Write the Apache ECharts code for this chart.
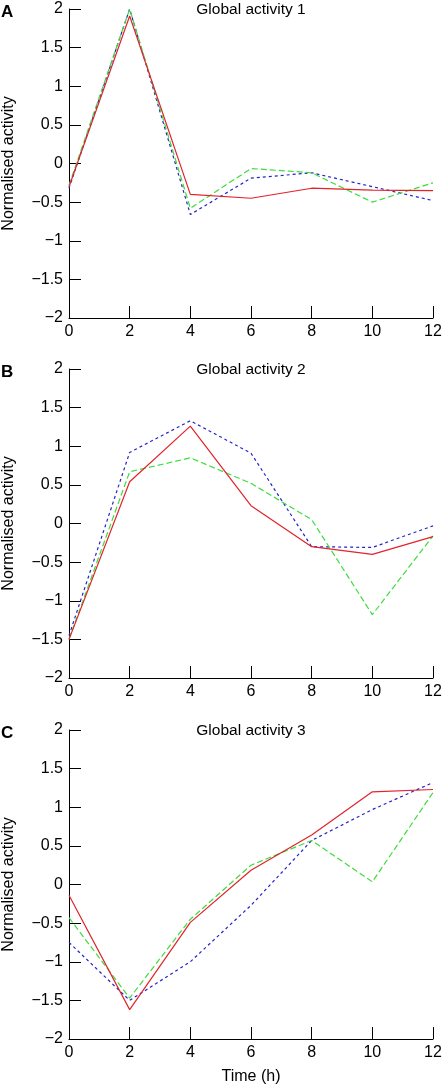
<!DOCTYPE html>
<html>
<head>
<meta charset="utf-8">
<script src="https://cdn.jsdelivr.net/npm/echarts@6/dist/echarts.min.js"></script>
<style>
  html, body { margin: 0; padding: 0; background: #fff; }
  #chart { width: 444px; height: 1086px; }
</style>
</head>
<body>
<div id="chart"></div>
<script>
// ---- data ----
var times = [0, 2, 4, 6, 8, 10, 12];
var xTicks = ['0', '2', '4', '6', '8', '10', '12'];
var yTicks = ['2', '1.5', '1', '0.5', '0', '−0.5', '−1', '−1.5', '−2'];
var panelLetters = ['A', 'B', 'C'];
var panelTitles = ['Global activity 1', 'Global activity 2', 'Global activity 3'];

var redA   = [-0.30, 1.91, -0.40, -0.45, -0.32, -0.345, -0.35];
var blueA  = [-0.32, 2.00, -0.66, -0.19, -0.12, -0.30, -0.48];
var greenA = [-0.28, 2.00, -0.58, -0.065, -0.12, -0.50, -0.25];

var redB   = [-1.50, 0.54, 1.26, 0.23, -0.30, -0.40, -0.17];
var blueB  = [-1.45, 0.92, 1.33, 0.91, -0.30, -0.31, -0.03];
var greenB = [-1.50, 0.67, 0.85, 0.52, 0.05, -1.18, -0.16];

var redC   = [-0.14, -1.62, -0.49, 0.185, 0.64, 1.20, 1.23];
var blueC  = [-0.75, -1.50, -1.00, -0.27, 0.57, 0.97, 1.32];
var greenC = [-0.43, -1.47, -0.45, 0.25, 0.57, 0.035, 1.19];

var panels = [
  { red: redA, blue: blueA, green: greenA },
  { red: redB, blue: blueB, green: greenB },
  { red: redC, blue: blueC, green: greenC }
];

// ---- layout / style ----
var FONT = 'Liberation Sans, Arial, Helvetica, sans-serif';
var gridTops = [9, 369, 730];
var gridH = 309;
var gridLeft = 69;
var gridW = 364;
var RED = '#e2232b', BLUE = '#2323c8', GREEN = '#3ddc3d';

function pair(xs, ys) { return xs.map(function (x, i) { return [x, ys[i]]; }); }
function yLabel(v) {
  var s = String(Math.round(v * 10) / 10).replace('-', '−');
  return yTicks.indexOf(s) >= 0 ? s : '';
}
function xLabel(v) {
  var s = String(v);
  return xTicks.indexOf(s) >= 0 ? s : '';
}

var grids = [], xAxes = [], yAxes = [], series = [], titles = [];
panels.forEach(function (p, i) {
  grids.push({
    left: gridLeft, top: gridTops[i], width: gridW, height: gridH,
    containLabel: false, outerBoundsMode: 'none'
  });
  xAxes.push({
    type: 'value', gridIndex: i, min: 0, max: 12, interval: 2,
    name: i === 2 ? 'Time (h)' : '', nameLocation: 'middle', nameGap: 30,
    nameTextStyle: { fontFamily: FONT, fontSize: 16, color: '#000' },
    axisLine: { show: true, onZero: false, lineStyle: { color: '#000', width: 1 } },
    axisTick: { show: true, inside: true, length: 12, lineStyle: { color: '#000', width: 1 } },
    axisLabel: { formatter: xLabel, margin: 6, fontFamily: FONT, fontSize: 16, color: '#000' },
    splitLine: { show: false }
  });
  yAxes.push({
    type: 'value', gridIndex: i, min: -2, max: 2, interval: 0.5,
    name: 'Normalised activity', nameLocation: 'middle', nameRotate: 90, nameGap: 52,
    nameTextStyle: { fontFamily: FONT, fontSize: 16, color: '#000' },
    axisLine: { show: true, onZero: false, lineStyle: { color: '#000', width: 1 } },
    axisTick: { show: true, inside: true, length: 12, lineStyle: { color: '#000', width: 1 } },
    axisLabel: { formatter: yLabel, margin: 6, fontFamily: FONT, fontSize: 16, color: '#000' },
    splitLine: { show: false }
  });
  series.push({
    type: 'line', xAxisIndex: i, yAxisIndex: i, data: pair(times, p.blue),
    symbol: 'none', silent: true, clip: false,
    lineStyle: { color: BLUE, width: 1.2, type: [3, 3] }
  });
  series.push({
    type: 'line', xAxisIndex: i, yAxisIndex: i, data: pair(times, p.green),
    symbol: 'none', silent: true, clip: false,
    lineStyle: { color: GREEN, width: 1.2, type: [6, 3] }
  });
  series.push({
    type: 'line', xAxisIndex: i, yAxisIndex: i, data: pair(times, p.red),
    symbol: 'none', silent: true, clip: false,
    lineStyle: { color: RED, width: 1.2, type: 'solid' }
  });
  titles.push({
    text: panelTitles[i], left: 251, top: gridTops[i] - 8, textAlign: 'center', padding: 0,
    textStyle: { fontFamily: FONT, fontSize: 15.5, fontWeight: 'normal', color: '#000', lineHeight: 18 }
  });
  titles.push({
    text: panelLetters[i], left: 1, top: gridTops[i] - 7, padding: 0,
    textStyle: { fontFamily: FONT, fontSize: 17, fontWeight: 'bold', color: '#000', lineHeight: 20 }
  });
});

var chart = echarts.init(document.getElementById('chart'), null, { renderer: 'canvas' });
chart.setOption({
  backgroundColor: '#fff',
  animation: false,
  title: titles,
  grid: grids,
  xAxis: xAxes,
  yAxis: yAxes,
  series: series
});
</script>
</body>
</html>
